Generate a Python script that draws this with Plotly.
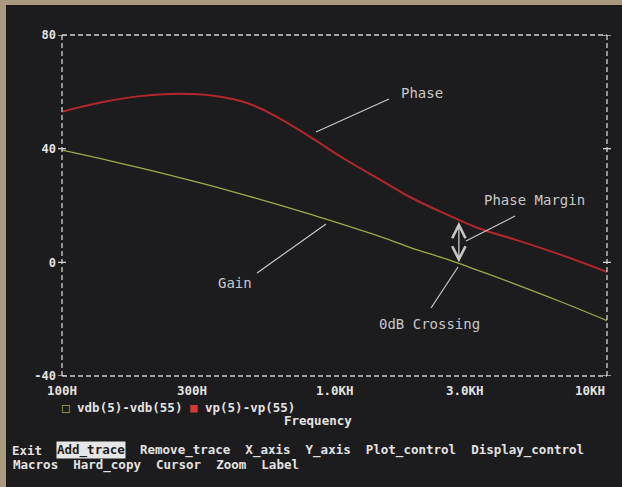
import math
import plotly.graph_objects as go

# Bode plot (frequency in Hz)
freq = [100, 140, 190, 270, 360, 480, 630, 830, 1100, 1500, 1900, 2600, 3400, 4500, 6700, 10000]
gain_db = [39.5, 36.4, 33.4, 29.8, 26.7, 23.4, 20.1, 16.7, 13.0, 8.8, 5.2, 1.0, -3.0, -7.3, -13.7, -20.5]
phase_deg = [53, 56.3, 58.4, 59.3, 58.6, 56.0, 50.6, 43.6, 36.1, 28.6, 22.9, 16.7, 11.9, 8.3, 2.8, -3.4]

# phase margin marker at the 0 dB crossing
pm_freq = 2860
pm_gain = 0
pm_phase = 14.7

xtick_vals = [100, 300, 1000, 3000, 10000]
xtick_text = ["100H", "300H", "1.0KH", "3.0KH", "10KH"]
ytick_vals = [-40, 0, 40, 80]
ytick_text = ["-40", "0", "40", "80"]

BG = "#1c1b1d"
GRID = "#d2d2d2"
TXT = "#e2e2e2"
NOTE = "#c8c8c8"
MONO = "DejaVu Sans Mono"

# plot box in screen pixels
L, R, T, B = 62, 607, 35, 376


def px(x):
    return (x - L) / (R - L)


def py(y):
    return (B - y) / (B - T)


fig = go.Figure()
fig.add_trace(go.Scatter(x=freq, y=gain_db, mode="lines", line_shape="spline",
                         line=dict(color="#a2ab44", width=1.3), showlegend=False))
fig.add_trace(go.Scatter(x=freq, y=phase_deg, mode="lines", line_shape="spline",
                         line=dict(color="#b3272b", width=2, smoothing=1.2), showlegend=False))

shapes = []
# dashed frame
dash = "5px,3px"
for x0, y0, x1, y1 in [(0, 0, 1, 0), (0, 1, 1, 1), (0, 0, 0, 1), (1, 0, 1, 1)]:
    shapes.append(dict(type="line", xref="paper", yref="paper", x0=x0, y0=y0, x1=x1, y1=y1,
                       line=dict(color=GRID, width=1.3, dash=dash)))
# "+" tick marks on the frame
tx = 4 / (R - L)
ty = 4 / (B - T)
for v in xtick_vals:
    for yy in (0, 1):
        shapes.append(dict(type="line", xref="x", yref="paper", x0=math.log10(v), x1=math.log10(v),
                           y0=yy - ty, y1=yy + ty, line=dict(color=GRID, width=1.3)))
for v in ytick_vals:
    for xx in (0, 1):
        shapes.append(dict(type="line", xref="paper", yref="y", x0=xx - tx, x1=xx + tx,
                           y0=v, y1=v, line=dict(color=GRID, width=1.3)))
# pointer lines for the notes
for (x0, y0, x1, y1) in [(389, 99, 316, 132), (326, 224, 257, 273),
                         (515, 216, 466, 241), (458, 267, 431, 308)]:
    shapes.append(dict(type="line", xref="paper", yref="paper", x0=px(x0), y0=py(y0),
                       x1=px(x1), y1=py(y1), line=dict(color=NOTE, width=1.2)))
# beige photo edge
shapes.append(dict(type="rect", xref="paper", yref="paper", x0=px(0), x1=px(6), y0=py(487), y1=py(0),
                   fillcolor="#a99a7e", line_width=0, layer="above"))
shapes.append(dict(type="rect", xref="paper", yref="paper", x0=px(0), x1=px(622), y0=py(5), y1=py(0),
                   fillcolor="#a99a7e", line_width=0, layer="above"))

ann = []
# x tick labels
for i, (v, t) in enumerate(zip(xtick_vals, xtick_text)):
    ann.append(dict(x=math.log10(v), y=py(390), xref="x", yref="paper", text="<b>" + t + "</b>",
                    showarrow=False, xanchor="right" if i == len(xtick_vals) - 1 else "center",
                    yanchor="middle", font=dict(family=MONO, size=12.5, color=TXT)))

# legend line
ann.append(dict(x=px(60), y=py(407), xref="paper", yref="paper", xanchor="left", yanchor="middle",
                showarrow=False, font=dict(family=MONO, size=12.5, color=TXT),
                text='<span style="color:#a2ab44">□</span> <b>vdb(5)-vdb(55)</b> '
                     '<span style="color:#d23a30">■</span> <b>vp(5)-vp(55)</b>'))
ann.append(dict(x=px(318), y=py(421), xref="paper", yref="paper", xanchor="center", yanchor="middle",
                showarrow=False, text="<b>Frequency</b>", font=dict(family=MONO, size=12.5, color=TXT)))

# menu bar
cw = 7.5
menu1 = [("Exit", 0, False), ("Add_trace", 6, True),
         ("Remove_trace  X_axis  Y_axis  Plot_control  Display_control", 17, False)]
for word, col, hi in menu1:
    ann.append(dict(x=px(11 + col * cw), y=py(450), xref="paper", yref="paper", xanchor="left",
                    yanchor="middle", showarrow=False, text="<b>" + word + "</b>",
                    bgcolor="#e6e6e6" if hi else None, borderpad=0,
                    font=dict(family=MONO, size=12.5, color=BG if hi else TXT)))
ann.append(dict(x=px(11), y=py(465), xref="paper", yref="paper", xanchor="left", yanchor="middle",
                showarrow=False, text="<b>Macros  Hard_copy  Cursor  Zoom  Label</b>",
                font=dict(family=MONO, size=12.5, color=TXT)))

# notes on the plot
for text, x, y in [("Phase", 422, 93), ("Gain", 235, 283), ("Phase Margin", 534, 200),
                   ("0dB Crossing", 429, 324)]:
    ann.append(dict(x=px(x), y=py(y), xref="paper", yref="paper", text=text, showarrow=False,
                    xanchor="center", yanchor="middle", font=dict(family=MONO, size=14, color=NOTE)))

# double-headed phase margin arrow
ann.append(dict(x=math.log10(pm_freq), y=pm_gain, ax=math.log10(pm_freq), ay=pm_phase,
                xref="x", yref="y", axref="x", ayref="y", text="", showarrow=True,
                arrowside="end+start", arrowhead=5, startarrowhead=5, arrowsize=2,
                startarrowsize=2, arrowwidth=1.3, arrowcolor=NOTE))

fig.update_layout(
    width=622, height=487,
    margin=dict(l=L, r=622 - R, t=T, b=487 - B),
    paper_bgcolor=BG, plot_bgcolor=BG,
    shapes=shapes, annotations=ann,
    xaxis=dict(type="log", range=[2, 4], showgrid=False, zeroline=False, showticklabels=False,
               ticks=""),
    yaxis=dict(range=[-40, 80], showgrid=False, zeroline=False, tickvals=ytick_vals,
               ticktext=["<b>" + t + "</b>" for t in ytick_text], ticks="", ticklabelstandoff=5,
               tickfont=dict(family=MONO, size=12, color=TXT)),
)

# the page body has an 8px default margin; drop it so the figure sits at 0,0
fig.write_html("out.html", config={"displayModeBar": False},
               post_script="document.body.style.margin='0';")
